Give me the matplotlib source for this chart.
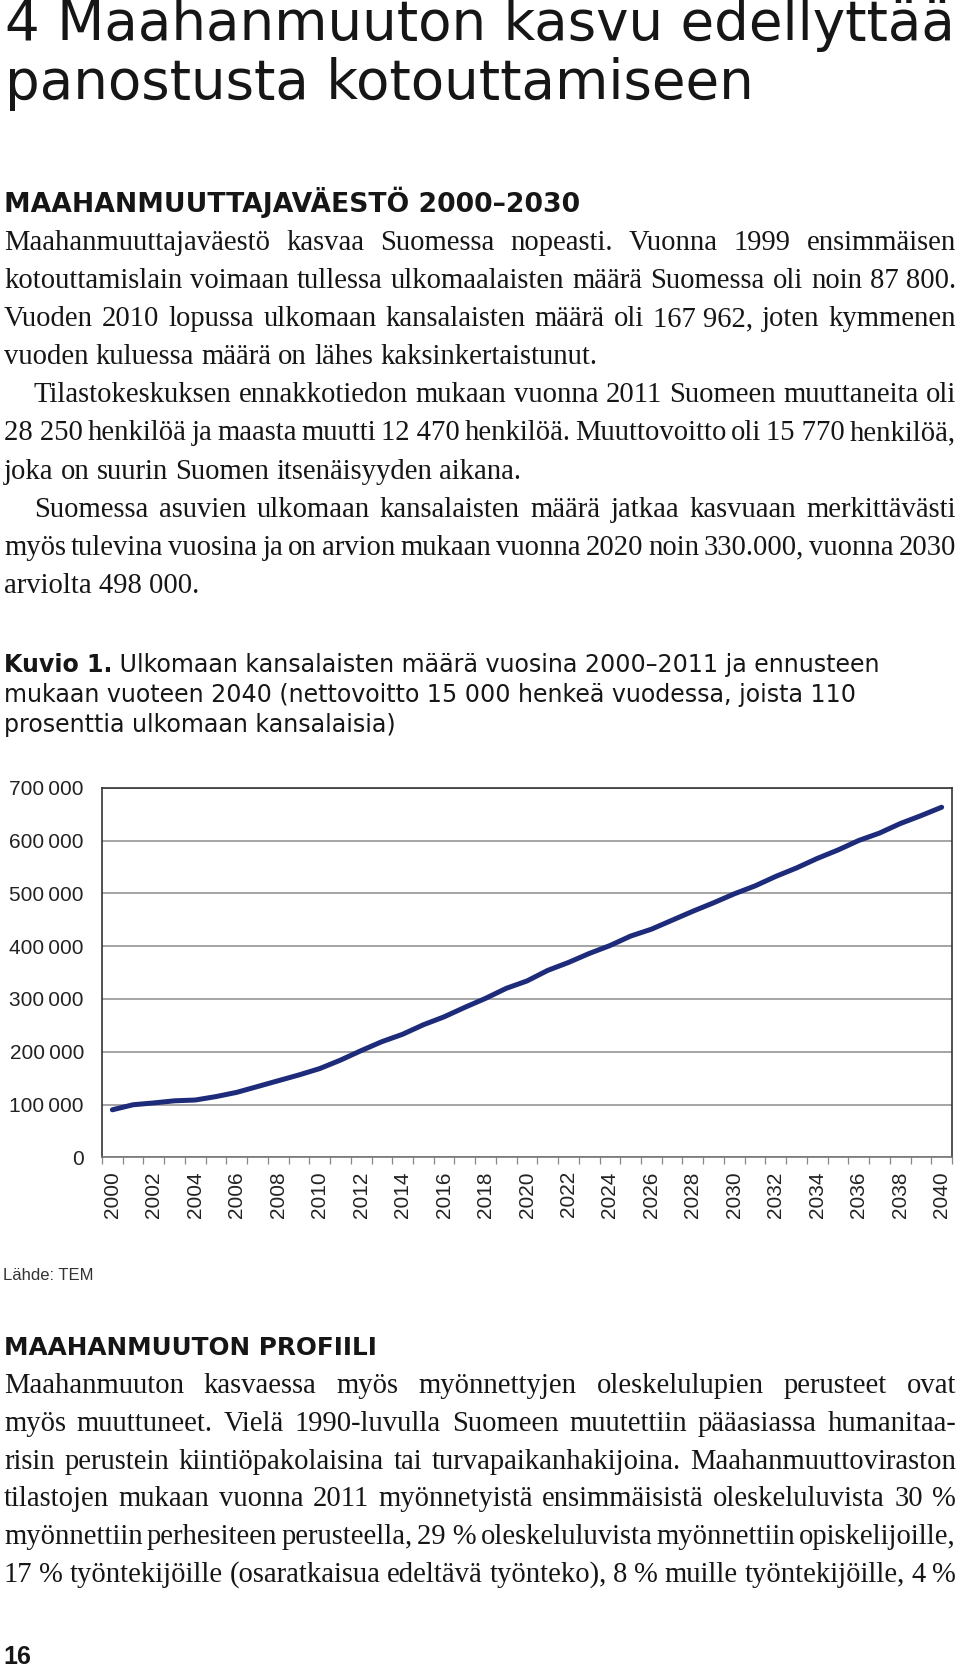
import numpy as np
import matplotlib
matplotlib.use('Agg')
import matplotlib.pyplot as plt

plt.rcParams['font.family'] = ['Liberation Sans', 'DejaVu Sans']

# --- chart data -------------------------------------------------------------
years = list(range(2000, 2041))
foreign_citizens = [90000, 99500, 103000, 107000, 108500, 115000, 123000,
                    134000, 145000, 156000, 168000, 184000, 202000, 219000,
                    233000, 251000, 266000, 284000, 301000, 320000, 334000,
                    354000, 369000, 386000, 401000, 419000, 432000, 449000,
                    466000, 482000, 499000, 514000, 532000, 548000, 566000,
                    582000, 600000, 614000, 632000, 647000, 663000]
ytick_values = [0, 100000, 200000, 300000, 400000, 500000, 600000, 700000]
xtick_years = years[::2]

# --- page text --------------------------------------------------------------
title_lines = ["4 Maahanmuuton kasvu edellyttää", "panostusta kotouttamiseen"]
heading_1 = "MAAHANMUUTTAJAVÄESTÖ 2000–2030"
heading_2 = "MAAHANMUUTON PROFIILI"
# (indented, text, justified)
para_1 = [
    (False, "Maahanmuuttajaväestö kasvaa Suomessa nopeasti. Vuonna 1999 ensimmäisen", True),
    (False, "kotouttamislain voimaan tullessa ulkomaalaisten määrä Suomessa oli noin 87\u00a0800.", True),
    (False, "Vuoden 2010 lopussa ulkomaan kansalaisten määrä oli 167\u00a0962, joten kymmenen", True),
    (False, "vuoden kuluessa määrä on lähes kaksinkertaistunut.", False),
    (True, "Tilastokeskuksen ennakkotiedon mukaan vuonna 2011 Suomeen muuttaneita oli", True),
    (False, "28\u00a0250 henkilöä ja maasta muutti 12\u00a0470 henkilöä. Muuttovoitto oli 15\u00a0770 henkilöä,", True),
    (False, "joka on suurin Suomen itsenäisyyden aikana.", False),
    (True, "Suomessa asuvien ulkomaan kansalaisten määrä jatkaa kasvuaan merkittävästi", True),
    (False, "myös tulevina vuosina ja on arvion mukaan vuonna 2020 noin 330.000, vuonna 2030", True),
    (False, "arviolta 498\u00a0000.", False),
]
para_2 = [
    (False, "Maahanmuuton kasvaessa myös myönnettyjen oleskelulupien perusteet ovat", True),
    (False, "myös muuttuneet. Vielä 1990-luvulla Suomeen muutettiin pääasiassa humanitaa-", True),
    (False, "risin perustein kiintiöpakolaisina tai turvapaikanhakijoina. Maahanmuuttoviraston", True),
    (False, "tilastojen mukaan vuonna 2011 myönnetyistä ensimmäisistä oleskeluluvista 30 %", True),
    (False, "myönnettiin perhesiteen perusteella, 29\u00a0% oleskeluluvista myönnettiin opiskelijoille,", True),
    (False, "17 % työntekijöille (osaratkaisua edeltävä työnteko), 8 % muille työntekijöille, 4 %", True),
]
caption_bold = "Kuvio 1."
caption_lines = [" Ulkomaan kansalaisten määrä vuosina 2000–2011 ja ennusteen",
                 "mukaan vuoteen 2040 (nettovoitto 15 000 henkeä vuodessa, joista 110",
                 "prosenttia ulkomaan kansalaisia)"]
source = "Lähde: TEM"
page_no = "16"

W, H = 960, 1670
fig = plt.figure(figsize=(W / 100, H / 100), dpi=100)
renderer = fig.canvas.get_renderer()
INK = '#161616'
LEFT, RIGHT = 4, 956
SERIF = ['Liberation Serif', 'DejaVu Serif']
DISPLAY = ['DejaVu Sans']


def put(x, y, s, size, **kw):
    # x, y in pixels from the top-left corner, y is the baseline
    kw.setdefault('color', INK)
    return fig.text(x / W, 1 - y / H, s, fontsize=size, va='baseline', **kw)


def measure(s, size, **kw):
    t = put(0, 0, s, size, **kw)
    w = t.get_window_extent(renderer).width
    t.remove()
    return w


def put_fit(x, y, s, width, **kw):
    size = 20 * width / measure(s, 20, **kw)
    put(x, y, s, size, **kw)
    return size


def body_size(lines, size, min_gap=0.15):
    best = size
    for ind, s, just in lines:
        words = s.split(' ')
        x0 = LEFT + (30 if ind else 0)
        natural = sum(measure(w, size, family=SERIF) for w in words)
        need = natural + (len(words) - 1) * min_gap * size * 100 / 72
        if need > RIGHT - x0:
            best = min(best, size * (RIGHT - x0) / need)
    return best


def put_paragraph(lines, y0, step, size):
    for i, (ind, s, just) in enumerate(lines):
        y = y0 + i * step
        x = LEFT + (30 if ind else 0)
        words = s.split(' ')
        widths = [measure(w, size, family=SERIF) for w in words]
        if just and len(words) > 1:
            gap = (RIGHT - x - sum(widths)) / (len(words) - 1)
        else:
            gap = 0.25 * size * 100 / 72
        for w, ww in zip(words, widths):
            put(x, y, w, size, family=SERIF)
            x += ww + gap


# title and headings
tsize = put_fit(5, 40, title_lines[0], 951, family=DISPLAY)
put(5, 99, title_lines[1], tsize, family=DISPLAY)
put_fit(4, 212, heading_1, 574, family=DISPLAY, weight='bold')
put_fit(4, 1355, heading_2, 374, family=DISPLAY, weight='bold')

bsize = body_size(para_1 + para_2, 21.5)
put_paragraph(para_1, 250, 38.1, bsize)
put_paragraph(para_2, 1393, 37.8, bsize)

# figure caption
cw = measure(caption_bold, 20, family=DISPLAY, weight='bold') + \
    measure(caption_lines[0], 20, family=DISPLAY)
csize = 20 * 876 / cw
t = put(4, 672, caption_bold, csize, family=DISPLAY, weight='bold')
bw = t.get_window_extent(renderer).width
put(4 + bw, 672, caption_lines[0], csize, family=DISPLAY)
put(4, 702, caption_lines[1], csize, family=DISPLAY)
put(4, 732, caption_lines[2], csize, family=DISPLAY)

put(3, 1280, source, 12, family=['Liberation Sans'], color='#333')
put(3, 1664, page_no, 18, family=['Liberation Sans'], weight='bold')

# --- chart ------------------------------------------------------------------
ax = fig.add_axes([102 / W, 1 - 1157.3 / H, 850 / W, 369.6 / H])
x = np.arange(len(years))
ax.plot(x, foreign_citizens, color='#1d2b7a', lw=3.6,
        solid_capstyle='round', solid_joinstyle='round', zorder=3)
ax.set_xlim(-0.5, len(years) - 0.5)
ax.set_ylim(0, 700000)
ax.set_yticks(ytick_values)
ax.set_yticklabels([f"{v:,}".replace(',', '\u2009') for v in ytick_values])
ax.set_xticks([years.index(y) for y in xtick_years])
ax.set_xticklabels([str(y) for y in xtick_years], rotation=90)
ax.set_xticks(np.arange(-0.5, len(years)), minor=True)
ax.tick_params(axis='x', which='major', length=0, pad=10, labelsize=15,
               labelcolor='#222')
ax.tick_params(axis='x', which='minor', length=5, width=0.9, color='#888')
ax.tick_params(axis='y', length=0, pad=13, labelsize=15, labelcolor='#222')
ax.grid(axis='y', color='#8c8c8c', lw=1.1)
ax.set_axisbelow(True)
for sp in ax.spines.values():
    sp.set_color('#333')
    sp.set_linewidth(1.2)
ax.spines['bottom'].set_color('#777')

fig.savefig('out.png', dpi=100)
